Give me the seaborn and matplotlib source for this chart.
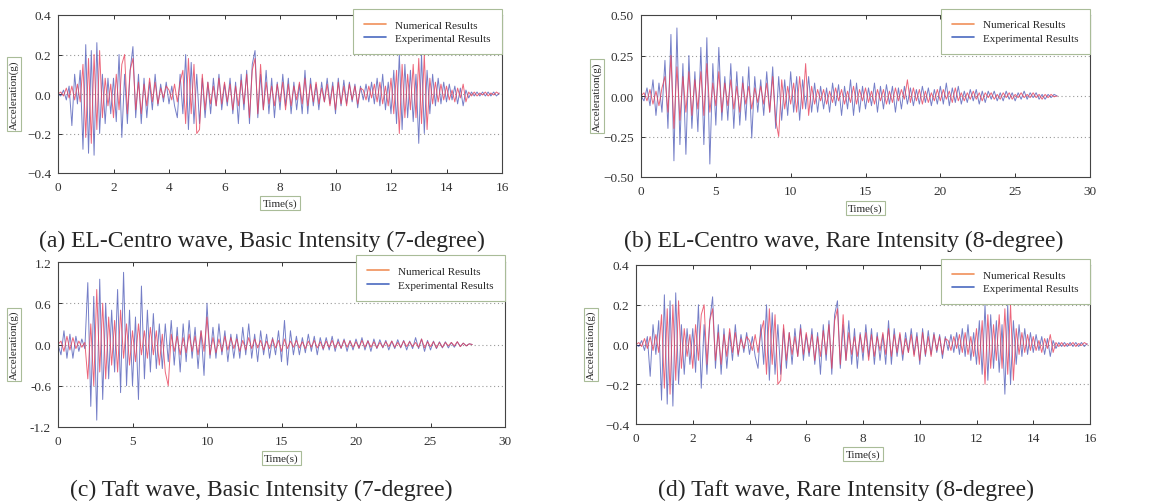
import matplotlib
matplotlib.use("Agg")
import matplotlib.pyplot as plt
import matplotlib.ticker as mticker
from matplotlib.lines import Line2D
import numpy as np
import seaborn as sns

# ---- data (acceleration in g) ----
# EL-Centro, basic intensity: one sample every 0.1 s, 0 .. 15.9 s
elc_basic_dt = 0.1
elc_basic_num = [
    0.00, 0.01, -0.01, 0.03, -0.02, 0.04, -0.03, 0.05, -0.04, 0.15,
    -0.22, 0.18, -0.25, 0.20, -0.18, 0.22, -0.12, 0.08, -0.06, 0.05,
    -0.12, 0.10, -0.08, 0.15, 0.20, -0.10, 0.12, 0.18, -0.08, 0.06,
    -0.10, 0.05, -0.06, 0.08, -0.04, 0.06, -0.05, 0.03, -0.02, 0.04,
    0.02, -0.03, 0.05, -0.04, 0.06, 0.12, -0.15, 0.18, -0.10, 0.15,
    -0.20, -0.18, 0.10, -0.08, 0.06, -0.05, 0.04, -0.06, 0.08, -0.05,
    0.06, -0.04, 0.05, -0.08, 0.04, -0.06, 0.07, -0.05, 0.10, -0.12,
    0.12, 0.18, -0.10, 0.15, -0.08, 0.06, -0.05, 0.04, -0.06, 0.05,
    -0.04, 0.06, -0.08, 0.05, -0.06, 0.04, -0.03, 0.06, -0.05, 0.08,
    -0.06, 0.05, -0.04, 0.06, -0.05, 0.03, -0.04, 0.05, -0.06, 0.04,
    -0.08, 0.06, -0.05, 0.04, -0.06, 0.05, -0.03, 0.04, -0.05, 0.03,
    0.02, -0.03, 0.04, -0.02, 0.05, -0.04, 0.06, -0.05, 0.04, -0.06,
    0.08, -0.10, 0.12, -0.20, 0.15, -0.12, 0.10, -0.08, 0.15, -0.12,
    0.18, -0.15, 0.20, -0.18, 0.08, -0.05, 0.06, -0.04, 0.05, -0.03,
    0.04, -0.03, 0.02, -0.04, 0.03, -0.02, 0.05, -0.04, 0.01, -0.01,
    0.01, -0.01, 0.005, -0.005, 0.01, -0.01, 0.005, -0.005, 0.01, 0.00,
]
elc_basic_exp = [
    0.00, -0.01, 0.02, -0.03, 0.04, -0.16, 0.10, -0.05, 0.12, -0.28,
    0.25, -0.30, 0.22, -0.31, 0.26, -0.20, 0.10, -0.15, 0.08, -0.10,
    0.08, -0.14, 0.20, -0.22, 0.10, -0.15, 0.12, 0.24, -0.12, 0.10,
    -0.15, 0.08, -0.12, 0.06, -0.08, 0.10, -0.06, 0.05, -0.04, 0.06,
    -0.05, 0.04, -0.06, -0.12, 0.10, -0.10, 0.20, -0.18, 0.16, -0.15,
    0.10, -0.15, 0.08, -0.12, 0.06, -0.10, 0.08, -0.06, 0.10, -0.08,
    0.05, -0.06, 0.08, -0.10, 0.06, -0.15, 0.10, -0.08, 0.12, -0.15,
    0.15, 0.22, -0.12, 0.10, -0.08, 0.12, -0.10, 0.08, -0.12, 0.06,
    -0.08, 0.10, -0.06, 0.08, -0.10, 0.06, -0.08, 0.05, -0.10, 0.12,
    -0.10, 0.08, -0.06, 0.05, -0.08, 0.06, -0.04, 0.08, -0.05, 0.06,
    -0.10, 0.08, -0.06, 0.07, -0.05, 0.06, -0.04, 0.05, -0.07, 0.04,
    -0.03, 0.05, -0.04, 0.06, -0.05, 0.08, -0.06, 0.10, -0.08, 0.06,
    -0.10, 0.12, -0.15, 0.20, -0.18, 0.15, -0.12, 0.12, -0.14, 0.10,
    -0.25, 0.20, -0.20, 0.12, -0.10, 0.10, -0.06, 0.08, -0.05, 0.06,
    -0.04, 0.05, -0.03, 0.04, -0.05, 0.03, -0.06, 0.02, -0.02, 0.01,
    -0.01, 0.01, -0.01, 0.01, -0.01, 0.01, -0.01, 0.01, -0.01, 0.005,
]

# EL-Centro, rare intensity: one sample every 0.2 s, 0 .. 27.8 s
elc_rare_dt = 0.2
elc_rare_num = [
    0.00, 0.02, -0.03, 0.04, -0.05, 0.03, -0.06, 0.05, 0.12, -0.10,
    0.25, -0.20, 0.18, -0.15, 0.12, -0.10, 0.15, -0.12, 0.10, -0.08,
    0.15, -0.12, 0.20, -0.10, 0.08, -0.06, 0.15, -0.10, 0.08, -0.06,
    0.10, -0.08, 0.06, -0.10, 0.08, -0.05, 0.06, -0.08, 0.05, -0.04,
    0.06, -0.05, 0.08, -0.10, 0.12, -0.15, -0.25, 0.10, -0.08, 0.06,
    -0.05, 0.08, -0.10, 0.12, -0.08, 0.20, -0.12, 0.06, -0.05, 0.04,
    -0.03, 0.04, -0.05, 0.03, -0.04, 0.05, -0.03, 0.04, -0.05, 0.03,
    -0.04, 0.06, -0.05, 0.04, -0.03, 0.05, -0.04, 0.03, -0.05, 0.04,
    -0.03, 0.04, -0.05, 0.03, -0.04, 0.05, -0.03, 0.04, -0.02, 0.10,
    -0.04, 0.05, -0.03, 0.04, -0.05, 0.03, -0.04, 0.02, -0.03, 0.04,
    -0.03, 0.04, -0.02, 0.03, -0.04, 0.05, -0.03, 0.02, -0.03, 0.02,
    -0.02, 0.03, -0.02, 0.02, -0.03, 0.02, -0.01, 0.02, -0.02, 0.01,
    -0.02, 0.02, -0.01, 0.02, -0.02, 0.01, -0.01, 0.02, -0.01, 0.01,
    -0.01, 0.02, -0.01, 0.01, -0.02, 0.01, -0.01, 0.01, -0.005, 0.00,
]
elc_rare_exp = [
    0.00, -0.03, 0.05, -0.06, 0.10, -0.12, 0.08, -0.10, 0.22, -0.20,
    0.38, -0.40, 0.42, -0.30, 0.20, -0.36, 0.25, -0.20, 0.15, -0.22,
    0.30, -0.30, 0.36, -0.42, 0.20, -0.18, 0.30, -0.15, 0.12, -0.15,
    0.20, -0.20, 0.15, -0.18, 0.12, -0.15, 0.18, -0.26, 0.12, -0.10,
    0.10, -0.12, 0.15, -0.10, 0.18, -0.20, 0.12, -0.15, 0.10, -0.12,
    0.15, -0.10, 0.12, -0.15, 0.10, -0.08, 0.12, -0.10, 0.08, -0.10,
    0.06, -0.08, 0.05, -0.10, 0.08, -0.06, 0.07, -0.12, 0.06, -0.08,
    0.10, -0.12, 0.08, -0.10, 0.06, -0.08, 0.05, -0.06, 0.08, -0.10,
    0.06, -0.08, 0.07, -0.05, 0.06, -0.10, 0.05, -0.08, 0.06, -0.05,
    0.05, -0.06, 0.04, -0.05, 0.06, -0.04, 0.05, -0.06, 0.04, -0.05,
    0.06, -0.05, 0.08, -0.06, 0.05, -0.04, 0.06, -0.05, 0.03, -0.04,
    0.04, -0.03, 0.04, -0.05, 0.03, -0.04, 0.03, -0.02, 0.03, -0.03,
    0.02, -0.03, 0.03, -0.02, 0.02, -0.03, 0.02, -0.02, 0.03, -0.02,
    0.02, -0.01, 0.02, -0.02, 0.01, -0.02, 0.01, -0.01, 0.01, 0.00,
]

# Taft, basic intensity: one sample every 0.2 s, 0 .. 27.8 s
taft_basic_dt = 0.2
taft_basic_num = [
    0.00, 0.05, -0.10, 0.12, -0.08, 0.10, -0.06, 0.05, -0.04, 0.03,
    -0.50, 0.30, -0.60, 0.80, -0.40, 0.60, -0.50, 0.40, -0.30, 0.35,
    -0.40, 0.50, -0.20, 0.30, -0.30, 0.20, -0.25, 0.30, -0.15, 0.20,
    -0.20, 0.25, -0.15, 0.20, -0.30, 0.15, -0.40, -0.60, 0.15, -0.10,
    0.12, -0.15, 0.10, -0.12, 0.15, -0.10, 0.12, -0.15, 0.20, -0.10,
    0.40, -0.15, 0.10, -0.12, 0.08, -0.10, 0.12, -0.08, 0.10, -0.06,
    0.08, -0.10, 0.06, -0.08, 0.10, -0.06, 0.08, -0.05, 0.06, -0.08,
    0.05, -0.06, 0.08, -0.05, 0.06, -0.10, 0.08, -0.06, 0.05, -0.04,
    0.06, -0.05, 0.04, -0.06, 0.05, -0.04, 0.06, -0.05, 0.04, -0.06,
    0.05, -0.04, 0.06, -0.05, 0.04, -0.05, 0.06, -0.04, 0.05, -0.04,
    0.04, -0.05, 0.06, -0.04, 0.05, -0.04, 0.04, -0.05, 0.03, -0.04,
    0.04, -0.03, 0.05, -0.04, 0.03, -0.04, 0.05, -0.03, 0.04, -0.03,
    0.03, -0.04, 0.08, -0.05, 0.04, -0.03, 0.04, -0.05, 0.03, -0.04,
    0.03, -0.02, 0.03, -0.02, 0.04, -0.03, 0.02, -0.02, 0.01, 0.00,
]
taft_basic_exp = [
    0.00, -0.15, 0.20, -0.20, 0.15, -0.20, 0.12, -0.10, 0.08, -0.06,
    0.90, -0.90, 0.70, -1.10, 0.95, -0.80, 0.60, -0.50, 0.50, -0.40,
    0.80, -0.70, 1.05, -0.60, 0.50, -0.60, 0.40, -0.80, 0.85, -0.50,
    0.50, -0.40, 0.45, -0.35, 0.30, -0.35, 0.30, -0.25, 0.35, -0.30,
    0.25, -0.40, 0.30, -0.25, 0.35, -0.20, 0.25, -0.35, 0.20, -0.45,
    0.60, -0.20, 0.25, -0.20, 0.30, -0.15, 0.20, -0.25, 0.15, -0.20,
    0.15, -0.20, 0.25, -0.15, 0.30, -0.20, 0.15, -0.25, 0.20, -0.15,
    0.15, -0.20, 0.10, -0.15, 0.20, -0.25, 0.35, -0.30, 0.20, -0.15,
    0.12, -0.15, 0.10, -0.12, 0.15, -0.10, 0.12, -0.15, 0.10, -0.08,
    0.10, -0.08, 0.12, -0.10, 0.08, -0.06, 0.08, -0.10, 0.06, -0.08,
    0.08, -0.06, 0.10, -0.08, 0.06, -0.10, 0.08, -0.06, 0.07, -0.05,
    0.06, -0.08, 0.05, -0.06, 0.07, -0.05, 0.06, -0.08, 0.05, -0.06,
    0.10, -0.06, 0.08, -0.10, 0.06, -0.08, 0.05, -0.06, 0.04, -0.05,
    0.04, -0.05, 0.03, -0.04, 0.04, -0.03, 0.02, -0.02, 0.01, 0.00,
]

# Taft, rare intensity: the trace in (d) is the same record as in (a)
taft_rare_dt = elc_basic_dt
taft_rare_num = elc_basic_num
taft_rare_exp = elc_basic_exp

captions = [
    "(a) EL-Centro wave, Basic Intensity (7-degree)",
    "(b) EL-Centro wave, Rare Intensity (8-degree)",
    "(c) Taft wave, Basic Intensity (7-degree)",
    "(d) Taft wave, Rare Intensity (8-degree)",
]

sns.set_theme(style="ticks")
plt.rcParams["font.family"] = ["Liberation Serif", "DejaVu Serif"]

W, H = 1156, 502
fig = plt.figure(figsize=(W / 100, H / 100), dpi=100)

RED = "#e8405a"
BLUE = "#3a48b0"
BOX = "#a9bc98"


def px_axes(l, t, r, b):
    return fig.add_axes([l / W, 1 - b / H, (r - l) / W, (b - t) / H])


def tick_fmt(ndec, minus):
    def f(v, pos):
        s = f"{v:.{ndec}f}"
        if s.startswith("-"):
            s = minus + s[1:]
        return s
    return mticker.FuncFormatter(f)


def draw_panel(ax, dt, num, exp, xmax, xstep, ylim, ystep, ndec, minus="\u2212"):
    t_exp = np.arange(len(exp)) * dt
    t_num = np.arange(len(num)) * dt
    sns.lineplot(x=t_exp, y=exp, ax=ax, color=BLUE, lw=0.7, alpha=0.7)
    sns.lineplot(x=t_num, y=num, ax=ax, color=RED, lw=0.7, alpha=0.8)
    ax.set_xlim(0, xmax)
    ax.set_ylim(-ylim, ylim)
    ax.set_xticks(np.arange(0, xmax + 0.01, xstep))
    ax.set_yticks(np.arange(-ylim, ylim + 1e-6, ystep))
    ax.yaxis.set_major_formatter(tick_fmt(ndec, minus))
    ax.tick_params(direction="in", length=3, width=0.7, labelsize=9.5,
                   top=True, right=False, colors="#333333")
    ax.tick_params(axis="x", pad=6)
    ax.tick_params(axis="y", pad=5)
    for y in ax.get_yticks()[1:-1]:
        ax.axhline(y, color="#9a9a9a", lw=0.8, ls=(0, (1, 2.5)), zorder=0)
    for s in ax.spines.values():
        s.set_color("#444444")
        s.set_linewidth(0.8)
    ax.set_xlabel("Time(s)", fontsize=8,
                  bbox=dict(boxstyle="square,pad=0.2", fc="white", ec=BOX, lw=0.8))
    ax.xaxis.set_label_coords(0.5, -0.16)
    ax.set_ylabel("Acceleration(g)", fontsize=8,
                  bbox=dict(boxstyle="square,pad=0.2", fc="white", ec=BOX, lw=0.8))
    ax.yaxis.set_label_coords(-0.088, 0.5)
    handles = [Line2D([], [], color="#f0905a", lw=1.2),
               Line2D([], [], color="#4a6ac0", lw=1.2)]
    leg = ax.legend(handles, ["Numerical Results", "Experimental Results"],
                    loc="upper right", bbox_to_anchor=(1.0, 1.04), fontsize=8,
                    frameon=True, fancybox=False, handlelength=2.0,
                    borderpad=1.0, labelspacing=0.35, borderaxespad=0)
    leg.get_frame().set_edgecolor(BOX)
    leg.get_frame().set_linewidth(0.8)
    leg.get_frame().set_alpha(1)


ax_a = px_axes(58, 16, 502, 174)
draw_panel(ax_a, elc_basic_dt, elc_basic_num, elc_basic_exp, 16, 2, 0.4, 0.2, 1)
ax_b = px_axes(641, 16, 1090, 178)
draw_panel(ax_b, elc_rare_dt, elc_rare_num, elc_rare_exp, 30, 5, 0.5, 0.25, 2)
ax_c = px_axes(58, 263, 505, 428)
draw_panel(ax_c, taft_basic_dt, taft_basic_num, taft_basic_exp, 30, 5, 1.2, 0.6, 1, minus="-")
ax_d = px_axes(636, 266, 1090, 425)
draw_panel(ax_d, taft_rare_dt, taft_rare_num, taft_rare_exp, 16, 2, 0.4, 0.2, 1)

for (cx, cy), text in zip([(262, 241), (844, 241), (261, 490), (846, 490)], captions):
    fig.text(cx / W, 1 - cy / H, text, ha="center", va="center", fontsize=17)

fig.savefig("out.png", dpi=100)
